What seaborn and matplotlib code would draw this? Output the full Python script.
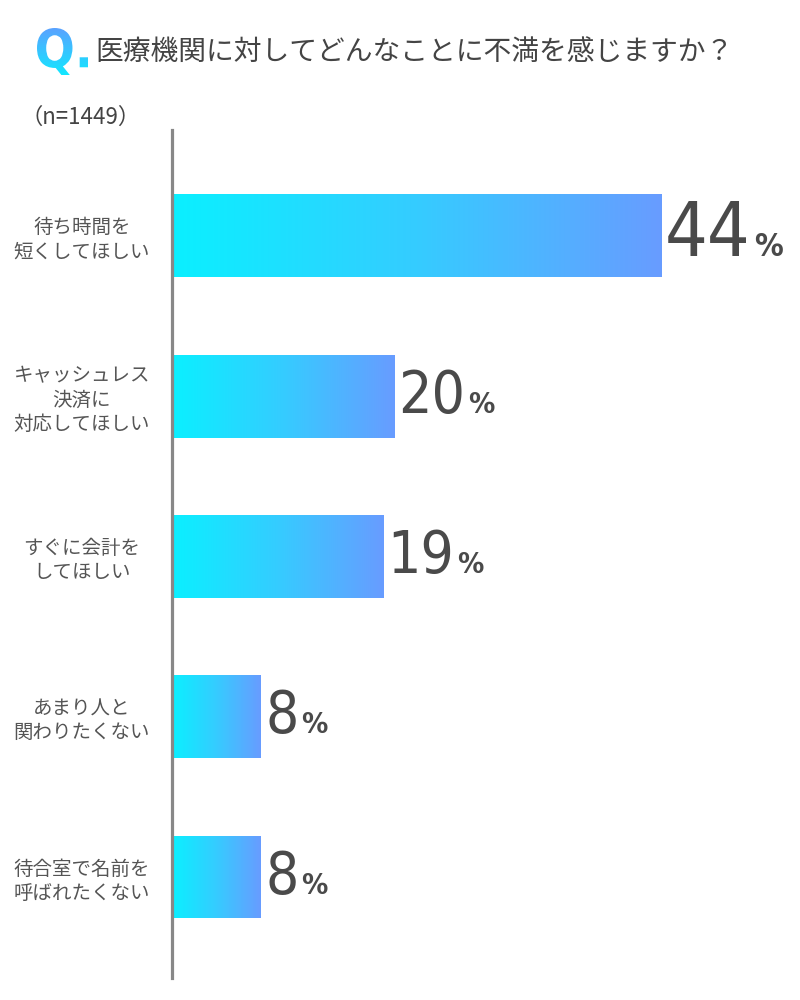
import numpy as np
import pandas as pd
import seaborn as sns
import matplotlib
matplotlib.use("Agg")
import matplotlib.pyplot as plt
from matplotlib import font_manager
from matplotlib.font_manager import FontProperties
from matplotlib.textpath import TextPath
from matplotlib.patches import PathPatch
from matplotlib.transforms import Affine2D
from matplotlib.offsetbox import TextArea, HPacker, AnnotationBbox
from matplotlib.colors import LinearSegmentedColormap

# ---------------- data ----------------
categories = [
    "待ち時間を\n短くしてほしい",
    "キャッシュレス\n決済に\n対応してほしい",
    "すぐに会計を\nしてほしい",
    "あまり人と\n関わりたくない",
    "待合室で名前を\n呼ばれたくない",
]
values = [44, 20, 19, 8, 8]
title = "医療機関に対してどんなことに不満を感じますか？"
sample_note = "（n=1449）"
q_mark = "Q."

# ---------------- style ----------------
sns.set_theme(style="white")
plt.rcParams["font.family"] = ["Noto Sans CJK JP", "DejaVu Sans"]

fl = font_manager.fontManager.ttflist
names = {f.name for f in fl}
cond = [f for f in fl if f.name == "DejaVu Sans" and str(f.stretch) in ("condensed", "semi-condensed", "75", "87.5")]
if "Liberation Sans Narrow" in names:
    num_props = dict(family="Liberation Sans Narrow")
    big_fs, small_fs = 60, 46
elif cond:
    num_props = dict(family="DejaVu Sans", fontstretch="condensed")
    big_fs, small_fs = 54, 42
else:
    num_props = dict(family="DejaVu Sans")
    big_fs, small_fs = 48, 36

fig = plt.figure(figsize=(8, 10), dpi=100)
fig.patch.set_facecolor("white")
ax = fig.add_axes([0.215, 0.022, 0.7725, 0.848])

df = pd.DataFrame({"cat": categories, "val": values})
sns.barplot(data=df, x="val", y="cat", orient="h", ax=ax, width=0.517,
            color="#33ccff", errorbar=None)

bar_cmap = LinearSegmentedColormap.from_list("bar", ["#0af0ff", "#35ccff", "#689cff"])
grad = np.linspace(0, 1, 256).reshape(1, -1)
for p in list(ax.patches):
    x0, y0 = p.get_x(), p.get_y()
    w, h = p.get_width(), p.get_height()
    im = ax.imshow(grad, cmap=bar_cmap, extent=(x0, x0 + w, y0 + h, y0),
                   aspect="auto", interpolation="bicubic", zorder=2)
    im.set_clip_path(p)
    p.set_facecolor("none")
    p.set_edgecolor("none")

ax.set_xlim(0, 55.6)
ax.set_ylim(4.63, -0.66)
ax.set_aspect("auto")

for s in ["top", "right", "bottom"]:
    ax.spines[s].set_visible(False)
ax.spines["left"].set_color("#888888")
ax.spines["left"].set_linewidth(2.3)
ax.set_xticks([])
ax.set_xlabel("")
ax.set_ylabel("")
ax.set_yticks(range(len(categories)))
ax.set_yticklabels(categories, ha="center", fontsize=14, color="#555555",
                   linespacing=1.2)
ax.tick_params(axis="y", length=0, pad=65)

# value labels
vmax = max(values)
for i, v in enumerate(values):
    big = v == vmax
    num = TextArea(f"{v}", textprops=dict(fontsize=big_fs if big else small_fs,
                                          color="#4a4a4a", **num_props))
    pct = TextArea("%", textprops=dict(fontsize=23 if big else 21,
                                       color="#4a4a4a", weight="bold", **num_props))
    box = HPacker(children=[num, pct], align="baseline", pad=0, sep=2)
    ab = AnnotationBbox(box, (v, i), xybox=(3, 0), xycoords="data",
                        boxcoords="offset points", box_alignment=(0, 0.5),
                        frameon=False, pad=0)
    ax.add_artist(ab)

# title & note
fig.text(95 / 800, 1 - 52 / 1000, title, fontsize=20, color="#444444",
         va="center", ha="left")
fig.text(20 / 800, 1 - 117 / 1000, sample_note, fontsize=16, color="#444444",
         va="center", ha="left")

# gradient "Q."
ax2 = fig.add_axes([0, 0, 1, 1], zorder=5)
ax2.patch.set_alpha(0)
qprop = FontProperties(weight="bold", **{k.replace("font", ""): v for k, v in num_props.items()})
tp = TextPath((0, 0), q_mark, size=100, prop=qprop)
ext = tp.get_extents()
bx0, bx1, by0, by1 = 37, 88, 28, 75
sx = (bx1 - bx0) / ext.width
sy = (by1 - by0) / ext.height
tr = Affine2D().translate(-ext.x0, -ext.y0).scale(sx, -sy).translate(bx0, by1)
qpath = tr.transform_path(tp)
qpatch = PathPatch(qpath, facecolor="none", edgecolor="none", transform=ax2.transData)
ax2.add_patch(qpatch)
qgrad = np.linspace(0, 1, 256).reshape(-1, 1)
qcmap = LinearSegmentedColormap.from_list("q", ["#5aa2ff", "#12e8ff"])
qim = ax2.imshow(qgrad, cmap=qcmap, extent=(bx0, bx1, by1, by0), aspect="auto")
qim.set_clip_path(qpatch)
ax2.set_xlim(0, 800)
ax2.set_ylim(1000, 0)
ax2.axis("off")

fig.savefig("out.png", dpi=100, facecolor="white")
